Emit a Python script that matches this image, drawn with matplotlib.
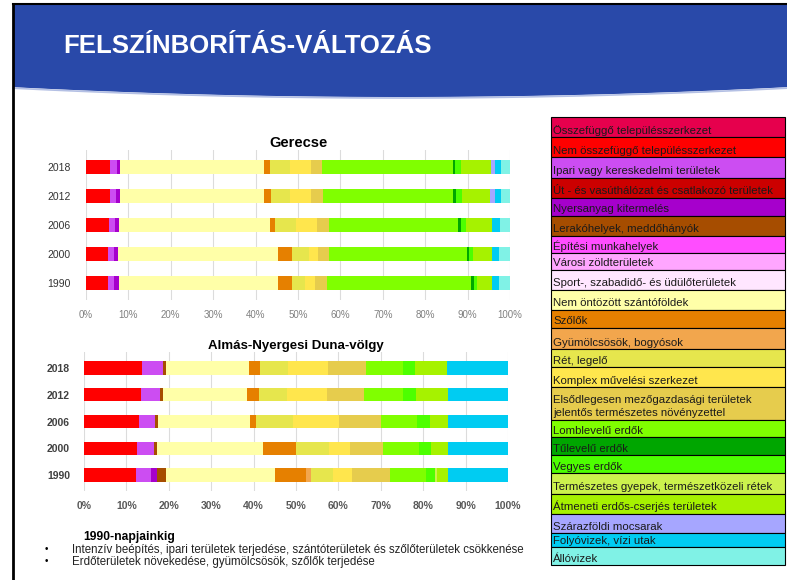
import numpy as np
import matplotlib.pyplot as plt
from matplotlib.patches import Polygon, Rectangle

plt.rcParams['font.family'] = ['Liberation Sans', 'DejaVu Sans']

# land cover classes (legend order = stacking order)
classes = [
    "Összefüggő településszerkezet",
    "Nem összefüggő településszerkezet",
    "Ipari vagy kereskedelmi területek",
    "Út - és vasúthálózat és csatlakozó területek",
    "Nyersanyag kitermelés",
    "Lerakóhelyek, meddőhányók",
    "Építési munkahelyek",
    "Városi zöldterületek",
    "Sport-, szabadidő- és üdülőterületek",
    "Nem öntözött szántóföldek",
    "Szőlők",
    "Gyümölcsösök, bogyósok",
    "Rét, legelő",
    "Komplex művelési szerkezet",
    "Elsődlegesen mezőgazdasági területek\njelentős természetes növényzettel",
    "Lomblevelű erdők",
    "Tűlevelű erdők",
    "Vegyes erdők",
    "Természetes gyepek, természetközeli rétek",
    "Átmeneti erdős-cserjés területek",
    "Szárazföldi mocsarak",
    "Folyóvizek, vízi utak",
    "Állóvizek",
]
colors = [
    "#e6004d", "#ff0000", "#cc4df2", "#cc0000", "#a600cc", "#a64d00",
    "#ff4dff", "#ffa6ff", "#ffe6ff", "#ffffa8", "#e68000", "#f2a64d",
    "#e6e64d", "#ffe64d", "#e6cc4d", "#80ff00", "#00a600", "#4dff00",
    "#ccf24d", "#a6f200", "#a6a6ff", "#00ccf2", "#80f2e6",
]

years = ["1990", "2000", "2006", "2012", "2018"]

# Gerecse, % share per class
ger_1990 = [0, 5.2, 1.5, 0, 1.0, 0, 0, 0, 0, 37.7, 3.3, 0, 3.0, 2.3, 2.8, 33.9, 0.7, 0.9, 0, 3.4, 0, 1.8, 2.5]
ger_2000 = [0, 5.3, 1.4, 0, 0.8, 0, 0, 0, 0, 37.7, 3.5, 0, 3.8, 2.2, 2.5, 32.6, 0.5, 0.9, 0, 4.5, 0, 1.8, 2.5]
ger_2006 = [0, 5.4, 1.5, 0, 0.8, 0, 0, 0, 0, 35.7, 1.2, 0, 5.0, 4.8, 2.8, 30.6, 0.6, 1.2, 0, 6.1, 0, 1.9, 2.4]
ger_2012 = [0, 5.6, 1.5, 0, 1.0, 0, 0, 0, 0, 33.9, 1.6, 0, 4.6, 4.9, 2.8, 30.7, 0.7, 1.3, 0, 6.8, 1.1, 1.4, 2.1]
ger_2018 = [0, 5.7, 1.6, 0, 0.8, 0, 0, 0, 0, 33.8, 1.4, 0, 4.7, 5.0, 2.7, 30.8, 0.6, 1.3, 0, 7.1, 1.0, 1.4, 2.1]

# Almás-Nyergesi Duna-völgy, % share per class
alm_1990 = [0, 12.3, 3.6, 0, 1.3, 2.1, 0, 0, 0, 25.8, 7.3, 1.2, 5.1, 4.5, 8.9, 8.6, 0, 2.0, 0.6, 2.5, 0, 14.2, 0]
alm_2000 = [0, 12.5, 4.0, 0, 0, 0.6, 0, 0, 0, 25.0, 7.8, 0, 8.0, 4.8, 7.8, 8.4, 0, 3.0, 0, 3.9, 0, 14.2, 0]
alm_2006 = [0, 13.0, 3.7, 0, 0, 0.8, 0, 0, 0, 21.6, 1.5, 0, 8.7, 10.8, 10.0, 8.4, 0, 3.0, 0, 4.3, 0, 14.2, 0]
alm_2012 = [0, 13.5, 4.5, 0, 0, 0.6, 0, 0, 0, 19.8, 2.8, 0, 6.7, 9.4, 8.7, 9.2, 0, 3.2, 0, 7.4, 0, 14.2, 0]
alm_2018 = [0, 13.7, 4.9, 0, 0, 0.7, 0, 0, 0, 19.5, 2.6, 0, 6.7, 9.5, 8.8, 8.8, 0, 2.9, 0, 7.5, 0, 14.4, 0]

ticks = np.arange(0, 101, 10)
tick_labels = [f"{t}%" for t in ticks]

W, H = 787, 580
fig = plt.figure(figsize=(W / 100, H / 100), dpi=100)

# background / slide layer in pixel coordinates
bg = fig.add_axes([0, 0, 1, 1])
bg.set_xlim(0, W)
bg.set_ylim(H, 0)
bg.axis('off')

# blue header with curved bottom edge
xs = np.linspace(13, W, 100)
ys = 87 + 10 * (1 - ((xs - 400) / 390) ** 2)
pts = [(13, 4), (W, 4)] + list(zip(xs[::-1], ys[::-1]))
bg.add_patch(Polygon(pts, closed=True, facecolor="#2949a9", edgecolor="none"))
bg.plot(xs, ys + 1, color="#b4c0e4", lw=1.2)
bg.text(63, 46, "FELSZÍNBORÍTÁS-VÁLTOZÁS", color="white", fontsize=18.5,
        fontweight="bold", va="center", ha="left")
# slide frame
bg.plot([13, 13], [4, H], color="black", lw=2)
bg.plot([13, W], [4, 4], color="black", lw=1.5)

# legend table
row_edges = [117, 137, 157, 178, 198, 216, 236, 253, 270, 290, 310, 328, 349,
             367, 387, 420, 437, 455, 473, 494, 514, 533, 547, 565]
lx0, lx1 = 551, 785
for i, (name, col) in enumerate(zip(classes, colors)):
    top, bot = row_edges[i], row_edges[i + 1]
    bg.add_patch(Rectangle((lx0, top), lx1 - lx0, bot - top, facecolor=col,
                           edgecolor="black", lw=0.8))
    bg.text(lx0 + 2, bot - 1.5, name, fontsize=8.2, color="#1a1a1a",
            va="bottom", ha="left", linespacing=1.4)

# bottom notes
bg.text(83, 537, "1990-napjainkig", fontsize=8.7, fontweight="bold", va="center")
notes = ["Intenzív beépítés, ipari területek terjedése, szántóterületek és szőlőterületek csökkenése",
         "Erdőterületek növekedése, gyümölcsösök, szőlők terjedése"]
for k, line in enumerate(notes):
    y = 549.5 + 12 * k
    bg.text(46, y, "•", fontsize=7, va="center", ha="center")
    bg.text(72, y, line, fontsize=8.3, color="#222222", va="center")


def stacked(ax, rows, height, title, bold, title_size, tpad):
    left = np.zeros(len(years))
    data = np.array(rows)
    for j, col in enumerate(colors):
        vals = data[:, j]
        ax.barh(years, vals, left=left, height=height, color=col,
                edgecolor="none", zorder=3)
        left += vals
    ax.set_xlim(0, 100)
    ax.set_ylim(-0.6, 4.6)
    ax.set_xticks(ticks)
    ax.grid(axis="x", color="#dcdcdc", lw=0.8, zorder=0)
    ax.set_axisbelow(True)
    for s in ax.spines.values():
        s.set_visible(False)
    w = "bold" if bold else "normal"
    ax.set_xticklabels(tick_labels, fontweight=w)
    ax.set_title(title, fontsize=title_size, fontweight="bold", pad=tpad)


def px_axes(x0, x1, y0, y1):
    return fig.add_axes([x0 / W, (H - y1) / H, (x1 - x0) / W, (y1 - y0) / H])


ax1 = px_axes(86, 510, 149.6, 300.4)
stacked(ax1, [ger_1990, ger_2000, ger_2006, ger_2012, ger_2018], 0.49,
        "Gerecse", False, 10.5, -2)
ax1.tick_params(axis="x", length=0, pad=7, labelsize=7, labelcolor="#808080")
ax1.tick_params(axis="y", length=0, pad=11, labelsize=7.5, labelcolor="#333333")

ax2 = px_axes(84, 508, 352, 491)
stacked(ax2, [alm_1990, alm_2000, alm_2006, alm_2012, alm_2018], 0.5,
        "Almás-Nyergesi Duna-völgy", True, 9.5, -5)
ax2.tick_params(axis="x", length=0, pad=7, labelsize=7.5, labelcolor="#595959")
ax2.tick_params(axis="y", length=0, pad=10, labelsize=7.5, labelcolor="#404040")
for lab in ax2.get_yticklabels():
    lab.set_fontweight("bold")

fig.savefig("out.png", dpi=100)
